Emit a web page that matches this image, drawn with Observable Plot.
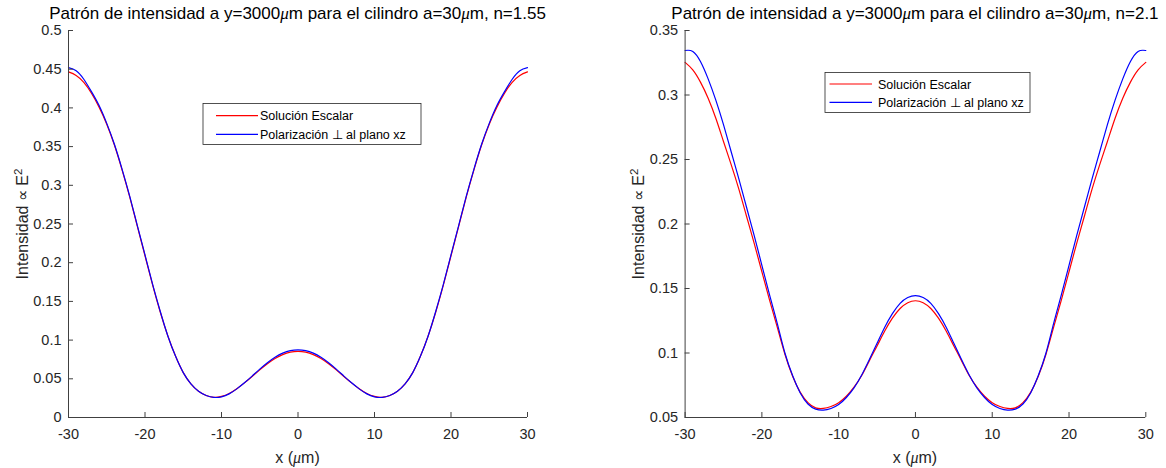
<!DOCTYPE html>
<html><head><meta charset="utf-8">
<script src="https://cdn.jsdelivr.net/npm/d3@7"></script>
<script src="https://cdn.jsdelivr.net/npm/@observablehq/plot@0.6"></script>
<style>
body{margin:0;background:#fff;}
#wrap{position:relative;width:1166px;height:468px;overflow:hidden;background:#fff;}
#wrap svg{position:absolute;top:0;}
</style></head><body><div id="wrap"></div>
<script>
// x positions (µm)
const xPos = [-30,-29,-28,-27,-26,-25,-24,-23,-22,-21,-20,-19,-18,-17,-16,-15,-14,-13,-12,-11,-10,-9,-8,-7,-6,-5,-4,-3,-2,-1,0,
  1,2,3,4,5,6,7,8,9,10,11,12,13,14,15,16,17,18,19,20,21,22,23,24,25,26,27,28,29,30];

// Left panel (n=1.55)
const scalarL = [0.4465,0.442,0.433,0.419,0.401,0.379,0.352,0.32,0.285,0.247,0.209,0.171,0.136,0.105,0.079,0.058,0.0435,0.034,0.0285,0.026,0.0272,0.031,0.0372,0.0447,0.053,0.0615,0.0695,0.0762,0.0813,0.0845,0.0855,
  0.0845,0.0813,0.0762,0.0695,0.0615,0.053,0.0447,0.0372,0.031,0.0272,0.026,0.0285,0.034,0.0435,0.058,0.079,0.105,0.136,0.171,0.209,0.247,0.285,0.32,0.352,0.379,0.401,0.419,0.433,0.442,0.4465];
const polarL = [0.452,0.448,0.437,0.421,0.403,0.38,0.353,0.321,0.286,0.248,0.21,0.172,0.137,0.105,0.079,0.058,0.0435,0.034,0.0285,0.026,0.0267,0.0305,0.037,0.0448,0.0535,0.0625,0.0708,0.0778,0.0832,0.0865,0.0875,
  0.0865,0.0832,0.0778,0.0708,0.0625,0.0535,0.0448,0.037,0.0305,0.0267,0.026,0.0285,0.034,0.0435,0.058,0.079,0.105,0.137,0.172,0.21,0.248,0.286,0.321,0.353,0.38,0.403,0.421,0.437,0.448,0.452];

// Right panel (n=2.1)
const scalarR = [0.3253,0.3195,0.31,0.2975,0.282,0.264,0.246,0.227,0.206,0.185,0.163,0.141,0.12,0.099,0.082,0.0695,0.0615,0.0575,0.057,0.0585,0.0615,0.0665,0.0735,0.0825,0.094,0.1055,0.117,0.127,0.1345,0.139,0.1405,
  0.139,0.1345,0.127,0.117,0.1055,0.094,0.0825,0.0735,0.0665,0.0615,0.0585,0.057,0.0575,0.0615,0.0695,0.082,0.099,0.12,0.141,0.163,0.185,0.206,0.227,0.246,0.264,0.282,0.2975,0.31,0.3195,0.3253];
const polarR = [0.3345,0.3338,0.326,0.3125,0.296,0.277,0.256,0.235,0.213,0.191,0.168,0.145,0.123,0.1,0.0825,0.069,0.0605,0.0565,0.0557,0.057,0.06,0.0655,0.073,0.083,0.095,0.1075,0.12,0.1305,0.1385,0.143,0.1445,
  0.143,0.1385,0.1305,0.12,0.1075,0.095,0.083,0.073,0.0655,0.06,0.057,0.0557,0.0565,0.0605,0.069,0.0825,0.1,0.123,0.145,0.168,0.191,0.213,0.235,0.256,0.277,0.296,0.3125,0.326,0.3338,0.3345];

const xTicks = [-30,-20,-10,0,10,20,30];
const yTicksL = [0,0.05,0.1,0.15,0.2,0.25,0.3,0.35,0.4,0.45,0.5];
const yTicksR = [0.05,0.1,0.15,0.2,0.25,0.3,0.35];
const nLabels = ["1.55","2.1"];
const seriesNames = ["Solución Escalar","Polarización \u22A5 al plano xz"];
const seriesColors = ["#ff0000","#0000ff"];

const FONT = "'Liberation Sans', Arial, Helvetica, sans-serif";
const INK = "#262626";
const AX = "#404040";

function rows(vals){ return xPos.map((x,i)=>({x, v: vals[i]})); }

function addText(svg, x, y, parts, opts={}){
  const t = d3.select(svg).append("text")
    .attr("x", x).attr("y", y)
    .attr("font-family", FONT)
    .attr("font-size", opts.size || 14)
    .attr("fill", opts.fill || INK)
    .attr("text-anchor", opts.anchor || "start");
  if (opts.transform) t.attr("transform", opts.transform);
  for (const p of parts){
    const s = t.append("tspan").text(p.t);
    if (p.mu){ s.attr("font-family","'Liberation Serif', 'Times New Roman', serif").attr("font-style","italic"); }
    if (p.sup){ s.attr("baseline-shift","super").attr("font-size", (opts.size||14)*0.72); }
  }
  return t;
}

function panel(cfg){
  const W = 583, H = 468;
  const innerW = W - cfg.ml - cfg.mr, innerH = H - cfg.mt - cfg.mb;
  const svg = Plot.plot({
    width: W, height: H,
    marginLeft: cfg.ml, marginRight: cfg.mr, marginTop: cfg.mt, marginBottom: cfg.mb,
    style: {fontFamily: FONT, fontSize: "14.5px", color: INK, background: "transparent", overflow: "visible"},
    x: {domain: [-30,30], axis: null},
    y: {domain: cfg.ydom, axis: null},
    marks: [
      Plot.line(rows(cfg.scalar), {x:"x", y:"v", stroke: seriesColors[0], strokeWidth: 1.2, curve: "natural"}),
      Plot.line(rows(cfg.polar), {x:"x", y:"v", stroke: seriesColors[1], strokeWidth: 1.2, curve: "natural"}),
      Plot.ruleX([-30], {stroke: AX, strokeWidth: 1}),
      Plot.ruleY([cfg.ydom[0]], {stroke: AX, strokeWidth: 1}),
      Plot.tickX(xTicks, {x: d=>d, stroke: AX, insetTop: innerH - 5}),
      Plot.tickY(cfg.yTicks, {y: d=>d, stroke: AX, insetRight: innerW - 5}),
      Plot.axisX(xTicks, {tickSize: 0, tickPadding: 11, tickFormat: d=>String(d), fontSize: 14.5, fill: INK, label: null}),
      Plot.axisY(cfg.yTicks, {tickSize: 0, tickPadding: 7, tickFormat: d=>String(d), fontSize: 14.5, fill: INK, label: null})
    ]
  });
  svg.style.left = cfg.left + "px";
  const cx = cfg.ml + innerW/2;
  // title
  addText(svg, cx, 19, [
    {t:"Patrón de intensidad a y=3000"},{t:"\u03BC",mu:true},{t:"m para el cilindro a=30"},{t:"\u03BC",mu:true},{t:"m, n="+cfg.n}
  ], {size: 17, anchor:"middle", fill:"#000"});
  // x label
  addText(svg, cx, 463, [{t:"x ("},{t:"\u03BC",mu:true},{t:"m)"}], {size: 16, anchor:"middle"});
  // y label
  addText(svg, 0, 0, [{t:"Intensidad \u221D E"},{t:"2",sup:true}], {size: 16, anchor:"middle", transform:`translate(${cfg.ylabX},224) rotate(-90)`});
  // legend
  const g = d3.select(svg).append("g");
  const L = cfg.legend;
  g.append("rect").attr("x", L.x).attr("y", L.y).attr("width", L.w).attr("height", L.h)
    .attr("fill","#fff").attr("stroke","#262626").attr("stroke-width",0.8);
  seriesNames.forEach((name,i)=>{
    const ly = L.y + L.row0 + i*L.dy;
    g.append("line").attr("x1", L.lx1).attr("x2", L.lx2).attr("y1", ly).attr("y2", ly)
      .attr("stroke", seriesColors[i]).attr("stroke-width", 1.2);
    addText(svg, L.tx, ly + 4.5, [{t:name}], {size: 12.5, fill:"#000"});
  });
  return svg;
}

const wrap = document.getElementById("wrap");
wrap.appendChild(panel({
  left: 0, ml: 68, mr: 56, mt: 30, mb: 51, ydom: [0,0.5], yTicks: yTicksL,
  scalar: scalarL, polar: polarL, n: nLabels[0], ylabX: 28,
  legend: {x: 203, y: 103.5, w: 218, h: 41, row0: 12.2, dy: 18.6, lx1: 216, lx2: 258, tx: 260}
}));
wrap.appendChild(panel({
  left: 583, ml: 101.6, mr: 20.7, mt: 30, mb: 51, ydom: [0.05,0.35], yTicks: yTicksR,
  scalar: scalarR, polar: polarR, n: nLabels[1], ylabX: 61,
  legend: {x: 242, y: 72.5, w: 205, h: 40, row0: 11.5, dy: 18.3, lx1: 246.5, lx2: 289, tx: 295}
}));
</script></body></html>
